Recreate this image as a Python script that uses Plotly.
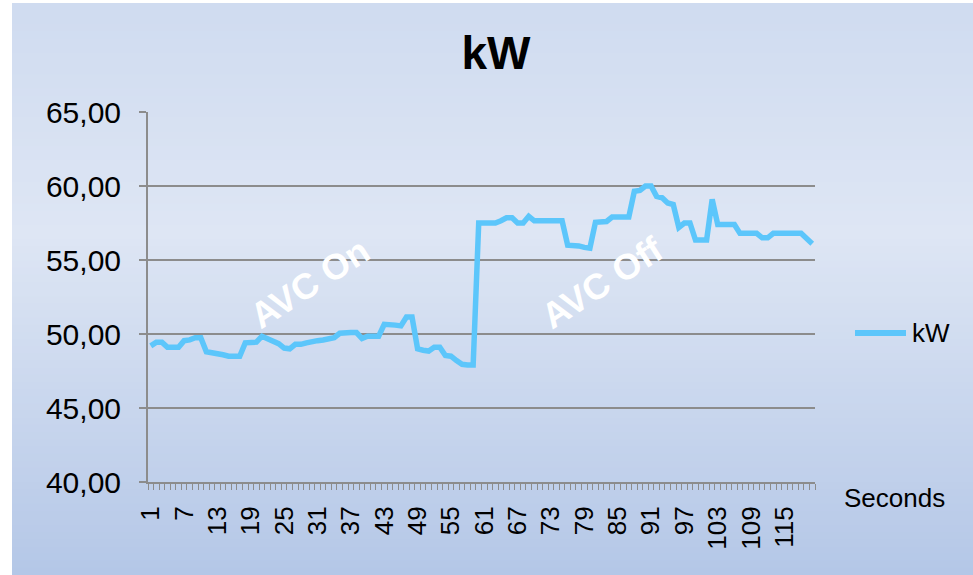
import plotly.graph_objects as go

# kW readings, one per second (1..120)
seconds = list(range(1, 121))
kw = [
    49.2, 49.45, 49.45, 49.1, 49.1, 49.1, 49.55, 49.6, 49.75, 49.75,
    48.8, 48.75, 48.65, 48.6, 48.5, 48.5, 48.5, 49.4, 49.45, 49.45,
    49.85, 49.7, 49.5, 49.35, 49.05, 49.0, 49.3, 49.3, 49.4, 49.5,
    49.55, 49.6, 49.7, 49.75, 50.05, 50.1, 50.1, 50.1, 49.7, 49.85,
    49.85, 49.85, 50.65, 50.65, 50.6, 50.55, 51.15, 51.15, 49.0, 48.9,
    48.85, 49.1, 49.1, 48.55, 48.5, 48.2, 47.95, 47.9, 47.9, 57.5,
    57.5, 57.5, 57.5, 57.65, 57.85, 57.85, 57.5, 57.5, 57.95, 57.65,
    57.65, 57.65, 57.65, 57.65, 57.65, 56.0, 56.0, 55.95, 55.85, 55.8,
    57.55, 57.55, 57.6, 57.9, 57.9, 57.9, 57.9, 59.65, 59.7, 60.0,
    60.0, 59.3, 59.2, 58.85, 58.75, 57.2, 57.5, 57.5, 56.35, 56.35,
    56.35, 59.1, 57.4, 57.4, 57.4, 57.4, 56.8, 56.8, 56.8, 56.8,
    56.5, 56.5, 56.8, 56.8, 56.8, 56.8, 56.8, 56.8, 56.45, 56.1,
]
label_ticks = list(range(1, 121, 6))
label_text = [str(v) for v in label_ticks]

W, H = 973, 575
L, R, T, B = 148, 158, 112, 93
pw, ph = W - L - R, H - T - B
LINE = "#5cc6fb"
GRID = "#8c8c8c"


def px(x):
    return (x - L) / pw


def py(y):
    return (H - B - y) / ph


# background gradient made of thin bands (Excel style fill)
stops = [(0.0, (207, 219, 240)), (0.4, (222, 230, 244)), (1.0, (180, 199, 231))]


def col(t):
    for (t0, c0), (t1, c1) in zip(stops, stops[1:]):
        if t <= t1:
            f = (t - t0) / (t1 - t0)
            return "rgb(%d,%d,%d)" % tuple(round(a + (b - a) * f) for a, b in zip(c0, c1))
    return "rgb(%d,%d,%d)" % stops[-1][1]


shapes = []
top, bot = 3, H
n = 80
for i in range(n):
    y0 = top + (bot - top) * i / n
    y1 = top + (bot - top) * (i + 1) / n + 1
    shapes.append(dict(type="rect", xref="paper", yref="paper", layer="below",
                       x0=px(12), x1=px(W), y0=py(min(y1, H)), y1=py(y0),
                       line=dict(width=0), fillcolor=col((i + 0.5) / n)))

# legend drawn by hand so the sample line is as long as Excel's
shapes.append(dict(type="line", xref="paper", yref="paper", x0=px(855), x1=px(906),
                   y0=py(333), y1=py(333), line=dict(color=LINE, width=6)))

fig = go.Figure()
fig.add_trace(go.Scatter(x=seconds, y=kw, mode="lines", name="kW",
                         line=dict(color=LINE, width=5.5)))

fig.update_layout(
    width=W, height=H,
    margin=dict(l=L, r=R, t=T, b=B),
    paper_bgcolor="white", plot_bgcolor="rgba(0,0,0,0)",
    separators=",.",
    font=dict(family="Liberation Sans, Arial", color="black", size=25),
    title=dict(text="<b>kW</b>", x=496 / W, xanchor="center", y=1 - 53 / H, yanchor="middle",
               font=dict(size=46)),
    shapes=shapes,
    showlegend=False,
    annotations=[
        dict(text="<b>AVC On</b>", x=px(309), y=py(283), xref="paper", yref="paper",
             xanchor="center", yanchor="middle",
             showarrow=False, textangle=-33, font=dict(color="white", size=36)),
        dict(text="<b>AVC Off</b>", x=px(602), y=py(282), xref="paper", yref="paper",
             xanchor="center", yanchor="middle",
             showarrow=False, textangle=-33, font=dict(color="white", size=36)),
        dict(text="Seconds", x=px(894), y=py(498), xref="paper", yref="paper",
             xanchor="center", yanchor="middle", showarrow=False, font=dict(size=26)),
        dict(text="kW", x=px(910), y=py(333), xref="paper", yref="paper",
             xanchor="left", yanchor="middle", showarrow=False, font=dict(size=26)),
    ],
)

fig.update_xaxes(
    range=[0.5, 120.5], tickmode="array", tickvals=label_ticks, ticktext=label_text,
    tickangle=-90, ticks="", showgrid=False, zeroline=False,
    showline=True, linecolor=GRID, linewidth=2, ticklabelstandoff=12,
    tickfont=dict(size=26),
    minor=dict(ticks="outside", tick0=0.5, dtick=1, ticklen=6, tickcolor=GRID,
               tickwidth=1, showgrid=False),
)
fig.update_yaxes(
    range=[40, 65], dtick=5, tickformat=".2f", ticks="outside", ticklen=7,
    tickcolor=GRID, tickwidth=2, showgrid=True, gridcolor=GRID, gridwidth=2,
    zeroline=False, showline=True, linecolor=GRID, linewidth=2,
    ticklabelstandoff=12, tickfont=dict(size=30),
)

fig.write_html("out.html", config={"displayModeBar": False},
               post_script="document.body.style.margin='0';")
